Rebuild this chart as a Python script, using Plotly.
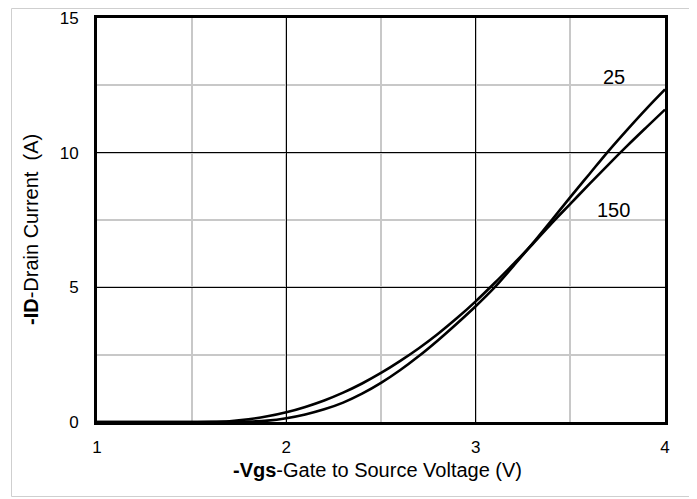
import plotly.graph_objects as go

# -Vgs (V)
vgs = [1.0, 1.5, 1.6, 1.7, 1.8, 1.9, 2.0, 2.1, 2.2, 2.3, 2.4, 2.5, 2.6, 2.7, 2.8, 2.9,
       3.0, 3.1, 3.2, 3.3, 3.4, 3.5, 3.6, 3.7, 3.8, 3.9, 4.0]
# -ID (A) at Tj = 25 C
id_25 = [0.0, 0.0, 0.0, 0.005, 0.015, 0.05, 0.14, 0.28, 0.47, 0.72, 1.05, 1.45, 1.92, 2.45, 3.03, 3.65,
         4.3, 5.0, 5.8, 6.62, 7.48, 8.35, 9.2, 10.05, 10.85, 11.62, 12.35]
# -ID (A) at Tj = 150 C
id_150 = [0.0, 0.0, 0.005, 0.03, 0.1, 0.21, 0.36, 0.56, 0.8, 1.09, 1.43, 1.82, 2.26, 2.74, 3.27, 3.85,
          4.48, 5.16, 5.87, 6.6, 7.37, 8.1, 8.83, 9.55, 10.25, 10.93, 11.6]

x_ticks = [1, 2, 3, 4]
y_ticks = [0, 5, 10, 15]
labels = ["25", "150"]
label_pos = [(3.73, 12.8), (3.73, 7.87)]
x_title = "<b>-Vgs</b>-Gate to Source Voltage (V)"
y_title = "<b>-ID</b>-Drain Current  (A)"

FONT = "Liberation Sans, Arial, sans-serif"

# figure is placed at an 8px page offset by the browser
W, H = 689, 491
L, R, T, B = 89, 32, 10, 77
PW, PH = W - L - R, H - T - B


def px(fx):
    return (fx - L) / PW


def py(fy):
    return (T + PH - fy) / PH


fig = go.Figure()
for ys in (id_25, id_150):
    fig.add_trace(go.Scatter(x=vgs, y=ys, mode="lines",
                             line=dict(color="black", width=2.6, shape="spline", smoothing=1.0),
                             showlegend=False, hoverinfo="skip"))

for txt, (lx, ly) in zip(labels, label_pos):
    fig.add_annotation(x=lx, y=ly, text=txt, showarrow=False, font=dict(family=FONT, size=20, color="black"))

# axis titles
fig.add_annotation(xref="paper", yref="paper", x=px(369), y=py(462), text=x_title, showarrow=False,
                   xanchor="center", yanchor="middle", font=dict(family=FONT, size=20, color="black"))
fig.add_annotation(xref="paper", yref="paper", x=px(23), y=py(222), text=y_title, showarrow=False,
                   textangle=-90, xanchor="center", yanchor="middle",
                   font=dict(family=FONT, size=20, color="black"))

# outer light frame
fig.add_shape(type="rect", xref="paper", yref="paper",
              x0=px(3.5), x1=px(681.5), y0=py(488.5), y1=py(0.5),
              line=dict(color="#cfcfcf", width=1), layer="above")

fig.update_layout(
    width=W, height=H,
    margin=dict(l=L, r=R, t=T, b=B),
    paper_bgcolor="white", plot_bgcolor="white",
    font=dict(family=FONT, size=17, color="black"),
    xaxis=dict(range=[1, 4], tickvals=x_ticks, ticktext=[str(v) for v in x_ticks],
               showgrid=True, gridcolor="black", gridwidth=1,
               minor=dict(dtick=0.5, tick0=1, showgrid=True, gridcolor="#c8c8c8", gridwidth=1.5),
               showline=True, linecolor="black", linewidth=3, mirror=True,
               zeroline=False, ticks="", ticklabelstandoff=8, automargin=False),
    yaxis=dict(range=[0, 15], tickvals=y_ticks, ticktext=[str(v) for v in y_ticks],
               showgrid=True, gridcolor="black", gridwidth=1,
               minor=dict(dtick=2.5, tick0=0, showgrid=True, gridcolor="#c8c8c8", gridwidth=1.5),
               showline=True, linecolor="black", linewidth=3, mirror=True,
               zeroline=False, ticks="", ticklabelstandoff=12, automargin=False),
)

fig.write_html("out.html")
